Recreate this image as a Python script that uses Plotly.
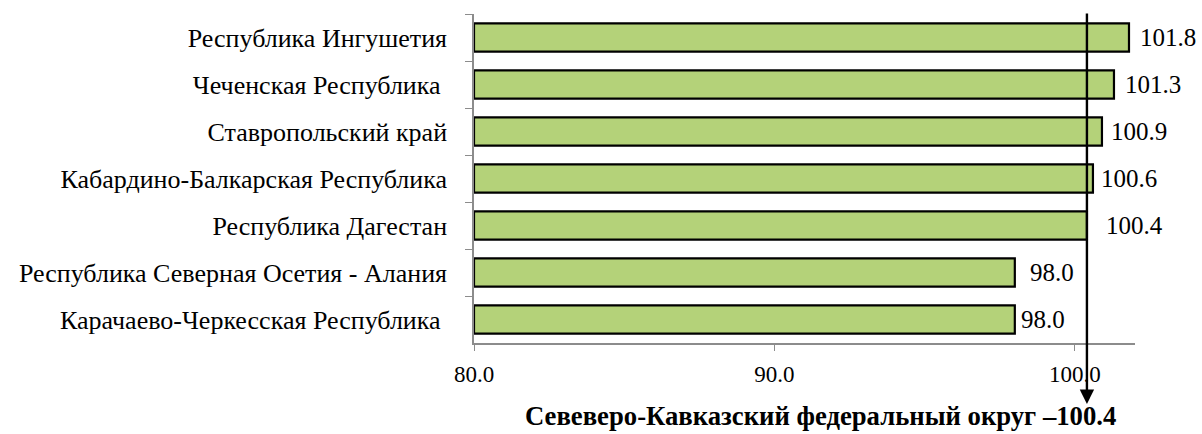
import plotly.graph_objects as go

regions = [
    "Республика Ингушетия",
    "Чеченская Республика ",
    "Ставропольский край",
    "Кабардино-Балкарская Республика",
    "Республика Дагестан",
    "Республика Северная Осетия - Алания",
    "Карачаево-Черкесская Республика ",
]
values = [101.8, 101.3, 100.9, 100.6, 100.4, 98.0, 98.0]
label_shift = [9, 9, 7, 6, 17, 13, 4]
district_value = 100.4
district_label = "Севеверо-Кавказский федеральный округ –100.4"
x_ticks = [80, 90, 100]

FONT = "Liberation Serif"
W, H = 1202, 434
L, R, T, B = 474, 67, 14, 91
PW, PH = W - L - R, H - T - B

fig = go.Figure()
fig.add_trace(go.Bar(
    x=[v - 80 for v in values], base=80, y=regions, orientation="h",
    width=0.6,
    marker=dict(color="#B4D279", line=dict(color="black", width=2.2)),
    hoverinfo="skip",
))

for r, v, s in zip(regions, values, label_shift):
    fig.add_annotation(x=v, y=r, xref="x", yref="y", text=f"{v:.1f}",
                       showarrow=False, xanchor="left", xshift=s,
                       font=dict(family=FONT, size=25, color="black"))

# district arrow
fig.add_annotation(x=district_value, y=-(404 - (H - B)) / PH, xref="x", yref="y domain",
                   ax=district_value, ay=1 + (T - 12) / PH, axref="x", ayref="y domain",
                   showarrow=True, arrowhead=2, arrowsize=1.2, arrowwidth=2.4,
                   arrowcolor="black", text="")
fig.add_annotation(x=(1118 - L) / PW, y=-(B - 1) / PH, xref="paper", yref="paper",
                   xanchor="right", yanchor="bottom", showarrow=False,
                   text=f"<b>{district_label}</b>",
                   font=dict(family=FONT, size=26.7, color="black"))

fig.update_layout(
    width=W, height=H,
    margin=dict(l=L, r=R, t=T, b=B),
    paper_bgcolor="white", plot_bgcolor="white",
    showlegend=False,
    font=dict(family=FONT, color="black"),
)
fig.update_xaxes(range=[80, 102], tickvals=x_ticks,
                 ticktext=[f"{t:.1f}" for t in x_ticks],
                 showgrid=False, zeroline=False, showline=True,
                 linecolor="#8C8C8C", linewidth=1.5, ticks="outside",
                 ticklen=6, tickcolor="#8C8C8C",
                 tickfont=dict(family=FONT, size=23, color="black"),
                 ticklabelstandoff=4)
fig.update_yaxes(autorange="reversed", showgrid=False, showline=True,
                 linecolor="#8C8C8C", linewidth=1.5, ticks="outside",
                 tickson="boundaries", ticklen=7, tickcolor="#8C8C8C",
                 tickfont=dict(family=FONT, size=26, color="black"),
                 ticklabelstandoff=20)

fig.write_html("out.html", config={"displayModeBar": False},
               post_script="document.body.style.margin='0';document.body.style.overflow='hidden';")
